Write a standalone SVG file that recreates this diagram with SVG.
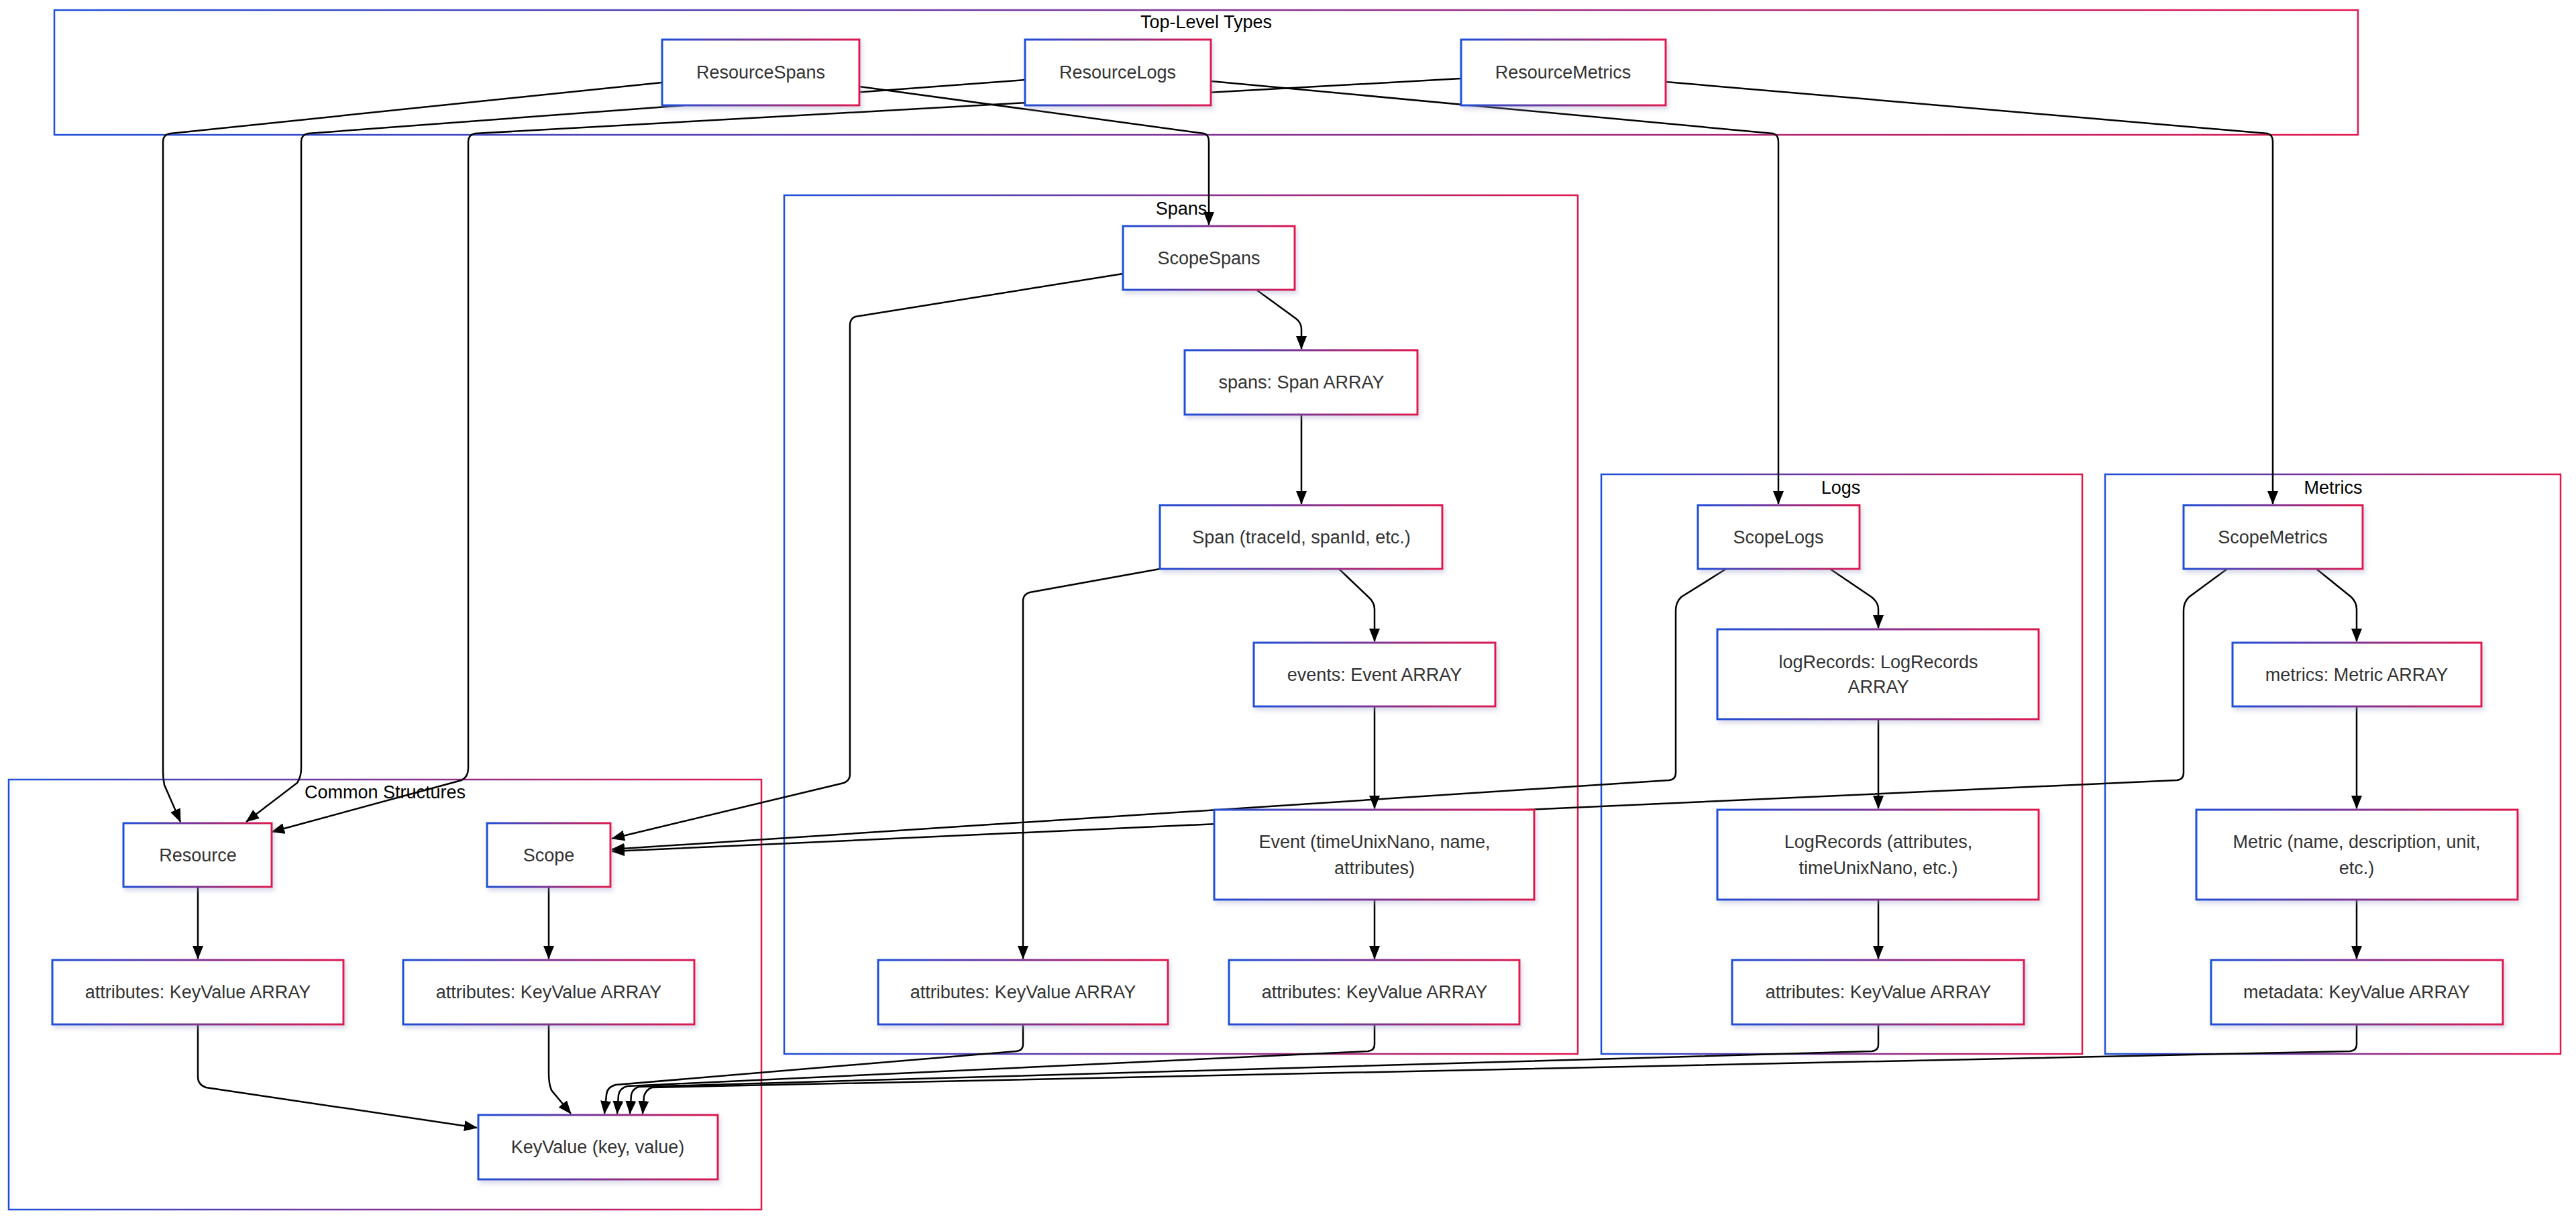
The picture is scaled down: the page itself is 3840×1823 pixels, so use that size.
<svg xmlns="http://www.w3.org/2000/svg" width="3840" height="1823" viewBox="0 0 3840 1823">
<defs>
<linearGradient id="g" x1="0" y1="0" x2="1" y2="0"><stop offset="0" stop-color="#1f4fd8"/><stop offset="1" stop-color="#e0184e"/></linearGradient>
<marker id="a" markerUnits="userSpaceOnUse" markerWidth="20" markerHeight="16" refX="19" refY="8" orient="auto"><path d="M0,0 L20,8 L0,16 z" fill="#000"/></marker>
<filter id="sh" x="-5%" y="-5%" width="115%" height="125%"><feDropShadow dx="3" dy="5" stdDeviation="3" flood-color="#9aa0c8" flood-opacity="0.35"/></filter>
</defs>
<style>
.c{fill:none;stroke:url(#g);stroke-width:2.5}
.n{fill:#fff;stroke:url(#g);stroke-width:3;filter:url(#sh)}
.t{font-family:"Liberation Sans",Arial,sans-serif;font-size:27px;fill:#333;text-anchor:middle;dominant-baseline:central}
.l{font-family:"Liberation Sans",Arial,sans-serif;font-size:27px;fill:#000;text-anchor:middle;dominant-baseline:central}
.e{fill:none;stroke:#000;stroke-width:2.5;marker-end:url(#a)}
</style>
<rect width="3840" height="1823" fill="#fff"/>
<g id="clusters">
<rect class="c" x="81" y="15" width="3434" height="186"/><text class="l" x="1798" y="33">Top-Level Types</text>
<rect class="c" x="1169" y="291" width="1183" height="1280"/><text class="l" x="1761" y="311">Spans</text>
<rect class="c" x="2387" y="707" width="717" height="864"/><text class="l" x="2744" y="727">Logs</text>
<rect class="c" x="3138" y="707" width="679" height="864"/><text class="l" x="3478" y="727">Metrics</text>
<rect class="c" x="13" y="1162" width="1122" height="641"/><text class="l" x="574" y="1181">Common Structures</text>
</g>
<g id="connectors">
<path class="e" d="M987,123 L253,199 Q243,201 243,211 L243,1150 Q243,1160 245,1170 L269,1225"/>
<path class="e" d="M1528,119 L459,199 Q449,201 449,211 L449,1145 Q449,1158 443,1167 L367,1225"/>
<path class="e" d="M2178,117 L708,199 Q698,201 698,211 L698,1145 Q698,1158 688,1163 L405,1240"/>
<path class="e" d="M1281,129 L1795,199 Q1802,201 1802,211 L1802,335"/>
<path class="e" d="M1805,121 L2643,199 Q2651,201 2651,211 L2651,751"/>
<path class="e" d="M2483,122 L3380,199 Q3388,201 3388,211 L3388,751"/>
<path class="e" d="M1674,408 L1275,472 Q1267,475 1267,485 L1267,1155 Q1267,1163 1258,1167 L912,1250"/>
<path class="e" d="M1873,432 L1932,475 Q1940,481 1940,491 L1940,520"/>
<path class="e" d="M1940,618 L1940,751"/>
<path class="e" d="M1729,848 L1535,883 Q1525,886 1525,896 L1525,1429"/>
<path class="e" d="M1996,848 L2040,890 Q2049,898 2049,908 L2049,956"/>
<path class="e" d="M2049,1053 L2049,1205"/>
<path class="e" d="M2049,1341 L2049,1429"/>
<path class="e" d="M2728,848 L2790,890 Q2800,898 2800,908 L2800,936"/>
<path class="e" d="M2800,1072 L2800,1205"/>
<path class="e" d="M2800,1341 L2800,1429"/>
<path class="e" d="M2573,848 L2506,890 Q2498,898 2498,910 L2498,1152 Q2498,1162 2488,1163 L912,1266"/>
<path class="e" d="M3453,848 L3505,890 Q3513,898 3513,908 L3513,956"/>
<path class="e" d="M3513,1053 L3513,1205"/>
<path class="e" d="M3513,1341 L3513,1429"/>
<path class="e" d="M3320,848 L3263,890 Q3255,898 3255,910 L3255,1152 Q3255,1162 3245,1163 L912,1269"/>
<path class="e" d="M295,1322 L295,1429"/>
<path class="e" d="M818,1322 L818,1429"/>
<path class="e" d="M295,1527 L295,1605 Q295,1617 307,1621 L711,1681"/>
<path class="e" d="M818,1527 L818,1600 Q818,1615 822,1625 L851,1660"/>
<path class="e" d="M1525,1527 L1525,1557 Q1525,1566 1515,1567 L918,1617 Q905,1620 904,1632 L901,1660"/>
<path class="e" d="M2049,1527 L2049,1557 Q2049,1566 2039,1567 L935,1619 Q924,1622 922,1632 L920,1660"/>
<path class="e" d="M2800,1527 L2800,1557 Q2800,1566 2790,1567 L952,1620 Q943,1623 941,1632 L939,1660"/>
<path class="e" d="M3513,1527 L3513,1557 Q3513,1566 3503,1567 L972,1621 Q963,1624 960,1634 L958,1660"/>
</g>
<g id="ResourceSpans"><rect class="n" x="987" y="59" width="294" height="98"/><text class="t" x="1134" y="108">ResourceSpans</text></g>
<g id="ResourceLogs"><rect class="n" x="1528" y="59" width="277" height="98"/><text class="t" x="1666" y="108">ResourceLogs</text></g>
<g id="ResourceMetrics"><rect class="n" x="2178" y="59" width="305" height="98"/><text class="t" x="2330" y="108">ResourceMetrics</text></g>
<g id="ScopeSpans"><rect class="n" x="1674" y="337" width="256" height="95"/><text class="t" x="1802" y="385">ScopeSpans</text></g>
<g id="SpansArray"><rect class="n" x="1766" y="522" width="347" height="96"/><text class="t" x="1940" y="570">spans: Span ARRAY</text></g>
<g id="Span"><rect class="n" x="1729" y="753" width="421" height="95"/><text class="t" x="1940" y="801">Span (traceId, spanId, etc.)</text></g>
<g id="EventsArray"><rect class="n" x="1869" y="958" width="360" height="95"/><text class="t" x="2049" y="1006">events: Event ARRAY</text></g>
<g id="Event"><rect class="n" x="1810" y="1207" width="477" height="134"/><text class="t" x="2049" y="1255">Event (timeUnixNano, name,</text><text class="t" x="2049" y="1294">attributes)</text></g>
<g id="SpanAttributes"><rect class="n" x="1309" y="1431" width="432" height="96"/><text class="t" x="1525" y="1479">attributes: KeyValue ARRAY</text></g>
<g id="EventAttributes"><rect class="n" x="1832" y="1431" width="433" height="96"/><text class="t" x="2049" y="1479">attributes: KeyValue ARRAY</text></g>
<g id="ScopeLogs"><rect class="n" x="2531" y="753" width="241" height="95"/><text class="t" x="2651" y="801">ScopeLogs</text></g>
<g id="LogRecordsArray"><rect class="n" x="2560" y="938" width="479" height="134"/><text class="t" x="2800" y="987">logRecords: LogRecords</text><text class="t" x="2800" y="1024">ARRAY</text></g>
<g id="LogRecords"><rect class="n" x="2560" y="1207" width="479" height="134"/><text class="t" x="2800" y="1255">LogRecords (attributes,</text><text class="t" x="2800" y="1294">timeUnixNano, etc.)</text></g>
<g id="LogAttributes"><rect class="n" x="2582" y="1431" width="435" height="96"/><text class="t" x="2800" y="1479">attributes: KeyValue ARRAY</text></g>
<g id="ScopeMetrics"><rect class="n" x="3255" y="753" width="267" height="95"/><text class="t" x="3388" y="801">ScopeMetrics</text></g>
<g id="MetricsArray"><rect class="n" x="3328" y="958" width="371" height="95"/><text class="t" x="3513" y="1006">metrics: Metric ARRAY</text></g>
<g id="Metric"><rect class="n" x="3274" y="1207" width="479" height="134"/><text class="t" x="3513" y="1255">Metric (name, description, unit,</text><text class="t" x="3513" y="1294">etc.)</text></g>
<g id="Metadata"><rect class="n" x="3296" y="1431" width="435" height="96"/><text class="t" x="3513" y="1479">metadata: KeyValue ARRAY</text></g>
<g id="Resource"><rect class="n" x="184" y="1227" width="221" height="95"/><text class="t" x="295" y="1275">Resource</text></g>
<g id="Scope"><rect class="n" x="726" y="1227" width="184" height="95"/><text class="t" x="818" y="1275">Scope</text></g>
<g id="ResourceAttributes"><rect class="n" x="78" y="1431" width="434" height="96"/><text class="t" x="295" y="1479">attributes: KeyValue ARRAY</text></g>
<g id="ScopeAttributes"><rect class="n" x="601" y="1431" width="434" height="96"/><text class="t" x="818" y="1479">attributes: KeyValue ARRAY</text></g>
<g id="KeyValue"><rect class="n" x="713" y="1662" width="357" height="96"/><text class="t" x="891" y="1710">KeyValue (key, value)</text></g>
</svg>
